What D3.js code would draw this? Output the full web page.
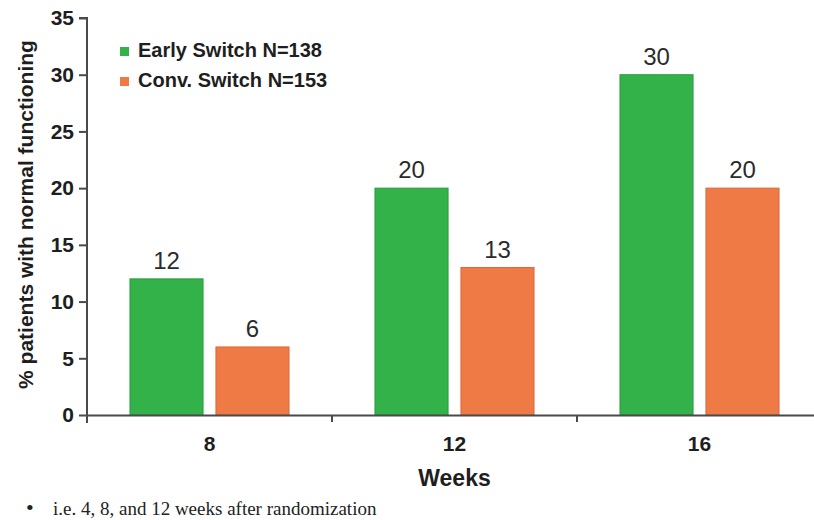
<!DOCTYPE html>
<html>
<head>
<meta charset="utf-8">
<script src="https://cdn.jsdelivr.net/npm/d3@7"></script>
<style>
  html, body { margin: 0; padding: 0; background: #ffffff; }
  svg { display: block; }
</style>
</head>
<body>
<svg id="chart" width="814" height="520"></svg>
<script>
// Weeks of follow-up and the two treatment arms
const weeks = ["8", "12", "16"];
const seriesNames = ["Early Switch N=138", "Conv. Switch N=153"];
const earlySwitch = [12, 20, 30];
const convSwitch = [6, 13, 20];
const yTicks = [0, 5, 10, 15, 20, 25, 30, 35];
const seriesColors = ["#33b24a", "#f07a46"];
const seriesStrokes = ["#2a9a3e", "#d8683a"];

const svg = d3.select("#chart");
const font = "Liberation Sans, Arial, sans-serif";
const axisColor = "#4a4a4a";

const plot = { left: 87, right: 822, top: 18, bottom: 415 };

const y = d3.scaleLinear().domain([0, 35]).range([plot.bottom, plot.top]);
const x0 = d3.scaleBand().domain(weeks).range([plot.left, plot.right]).padding(0);
const x1 = d3.scaleBand().domain(seriesNames)
  .range([0, x0.bandwidth()])
  .paddingInner(0.15)
  .paddingOuter(0.5);

const rows = weeks.map((w, i) => ({
  week: w,
  values: [
    { name: seriesNames[0], value: earlySwitch[i], idx: 0 },
    { name: seriesNames[1], value: convSwitch[i], idx: 1 }
  ]
}));

// Bars
const groups = svg.append("g").selectAll("g")
  .data(rows).join("g")
  .attr("transform", d => `translate(${x0(d.week)},0)`);

groups.selectAll("rect")
  .data(d => d.values).join("rect")
  .attr("x", d => x1(d.name))
  .attr("y", d => y(d.value))
  .attr("width", x1.bandwidth())
  .attr("height", d => y(0) - y(d.value))
  .attr("fill", d => seriesColors[d.idx])
  .attr("stroke", d => seriesStrokes[d.idx])
  .attr("stroke-width", 1);

// Value labels
groups.selectAll("text.val")
  .data(d => d.values).join("text")
  .attr("class", "val")
  .attr("x", d => x1(d.name) + x1.bandwidth() / 2)
  .attr("y", d => y(d.value) - 10)
  .attr("text-anchor", "middle")
  .attr("font-family", font)
  .attr("font-size", 24)
  .attr("fill", "#2b2b2b")
  .text(d => d.value);

// Y axis
const yAxis = d3.axisLeft(y).tickValues(yTicks).tickSize(8).tickPadding(5);
const gy = svg.append("g")
  .attr("transform", `translate(${plot.left},0)`)
  .call(yAxis);
gy.select(".domain").attr("stroke", axisColor).attr("stroke-width", 2)
  .attr("d", `M-8,${plot.top}H0V${plot.bottom + 8}`);
gy.selectAll(".tick line").attr("stroke", axisColor).attr("stroke-width", 2);
gy.selectAll(".tick text")
  .attr("font-family", font).attr("font-size", 21).attr("font-weight", "bold")
  .attr("fill", "#1e1e1e");

// X axis: baseline with dividers between week groups
const xAxis = d3.axisBottom(x0).tickSize(0).tickPadding(21);
const gx = svg.append("g")
  .attr("transform", `translate(0,${plot.bottom})`)
  .call(xAxis);
gx.select(".domain").attr("stroke", axisColor).attr("stroke-width", 2);
gx.selectAll(".tick text")
  .attr("font-family", font).attr("font-size", 21).attr("font-weight", "bold")
  .attr("fill", "#1e1e1e");
gx.selectAll("line.divider")
  .data(weeks.slice(1)).join("line")
  .attr("class", "divider")
  .attr("x1", d => x0(d)).attr("x2", d => x0(d))
  .attr("y1", 0).attr("y2", 7)
  .attr("stroke", axisColor).attr("stroke-width", 2);

// Axis titles
svg.append("text")
  .attr("x", x0("12") + x0.bandwidth() / 2)
  .attr("y", 486)
  .attr("text-anchor", "middle")
  .attr("font-family", font).attr("font-size", 23).attr("font-weight", "bold")
  .attr("fill", "#1e1e1e")
  .text("Weeks");

svg.append("text")
  .attr("transform", `translate(33,${(plot.top + plot.bottom) / 2 - 2}) rotate(-90)`)
  .attr("text-anchor", "middle")
  .attr("font-family", font).attr("font-size", 21).attr("font-weight", "bold")
  .attr("fill", "#1e1e1e")
  .text("% patients with normal functioning");

// Legend
const legend = svg.append("g").attr("transform", "translate(120,44)");
seriesNames.forEach((name, i) => {
  const row = legend.append("g").attr("transform", `translate(0,${i * 30})`);
  row.append("rect").attr("x", 0).attr("y", 3).attr("width", 9).attr("height", 9)
    .attr("fill", seriesColors[i]);
  row.append("text").attr("x", 18).attr("y", 13)
    .attr("font-family", font).attr("font-size", 20).attr("font-weight", "bold")
    .attr("fill", "#1e1e1e")
    .text(name);
});

// Footnote
svg.append("text").attr("x", 26).attr("y", 515)
  .attr("font-family", "Liberation Serif, Times New Roman, serif").attr("font-size", 22)
  .attr("fill", "#222").text("•");
svg.append("text").attr("x", 53).attr("y", 515)
  .attr("font-family", "Liberation Serif, Times New Roman, serif").attr("font-size", 19)
  .attr("fill", "#222").text("i.e. 4, 8, and 12 weeks after randomization");
</script>
</body>
</html>
